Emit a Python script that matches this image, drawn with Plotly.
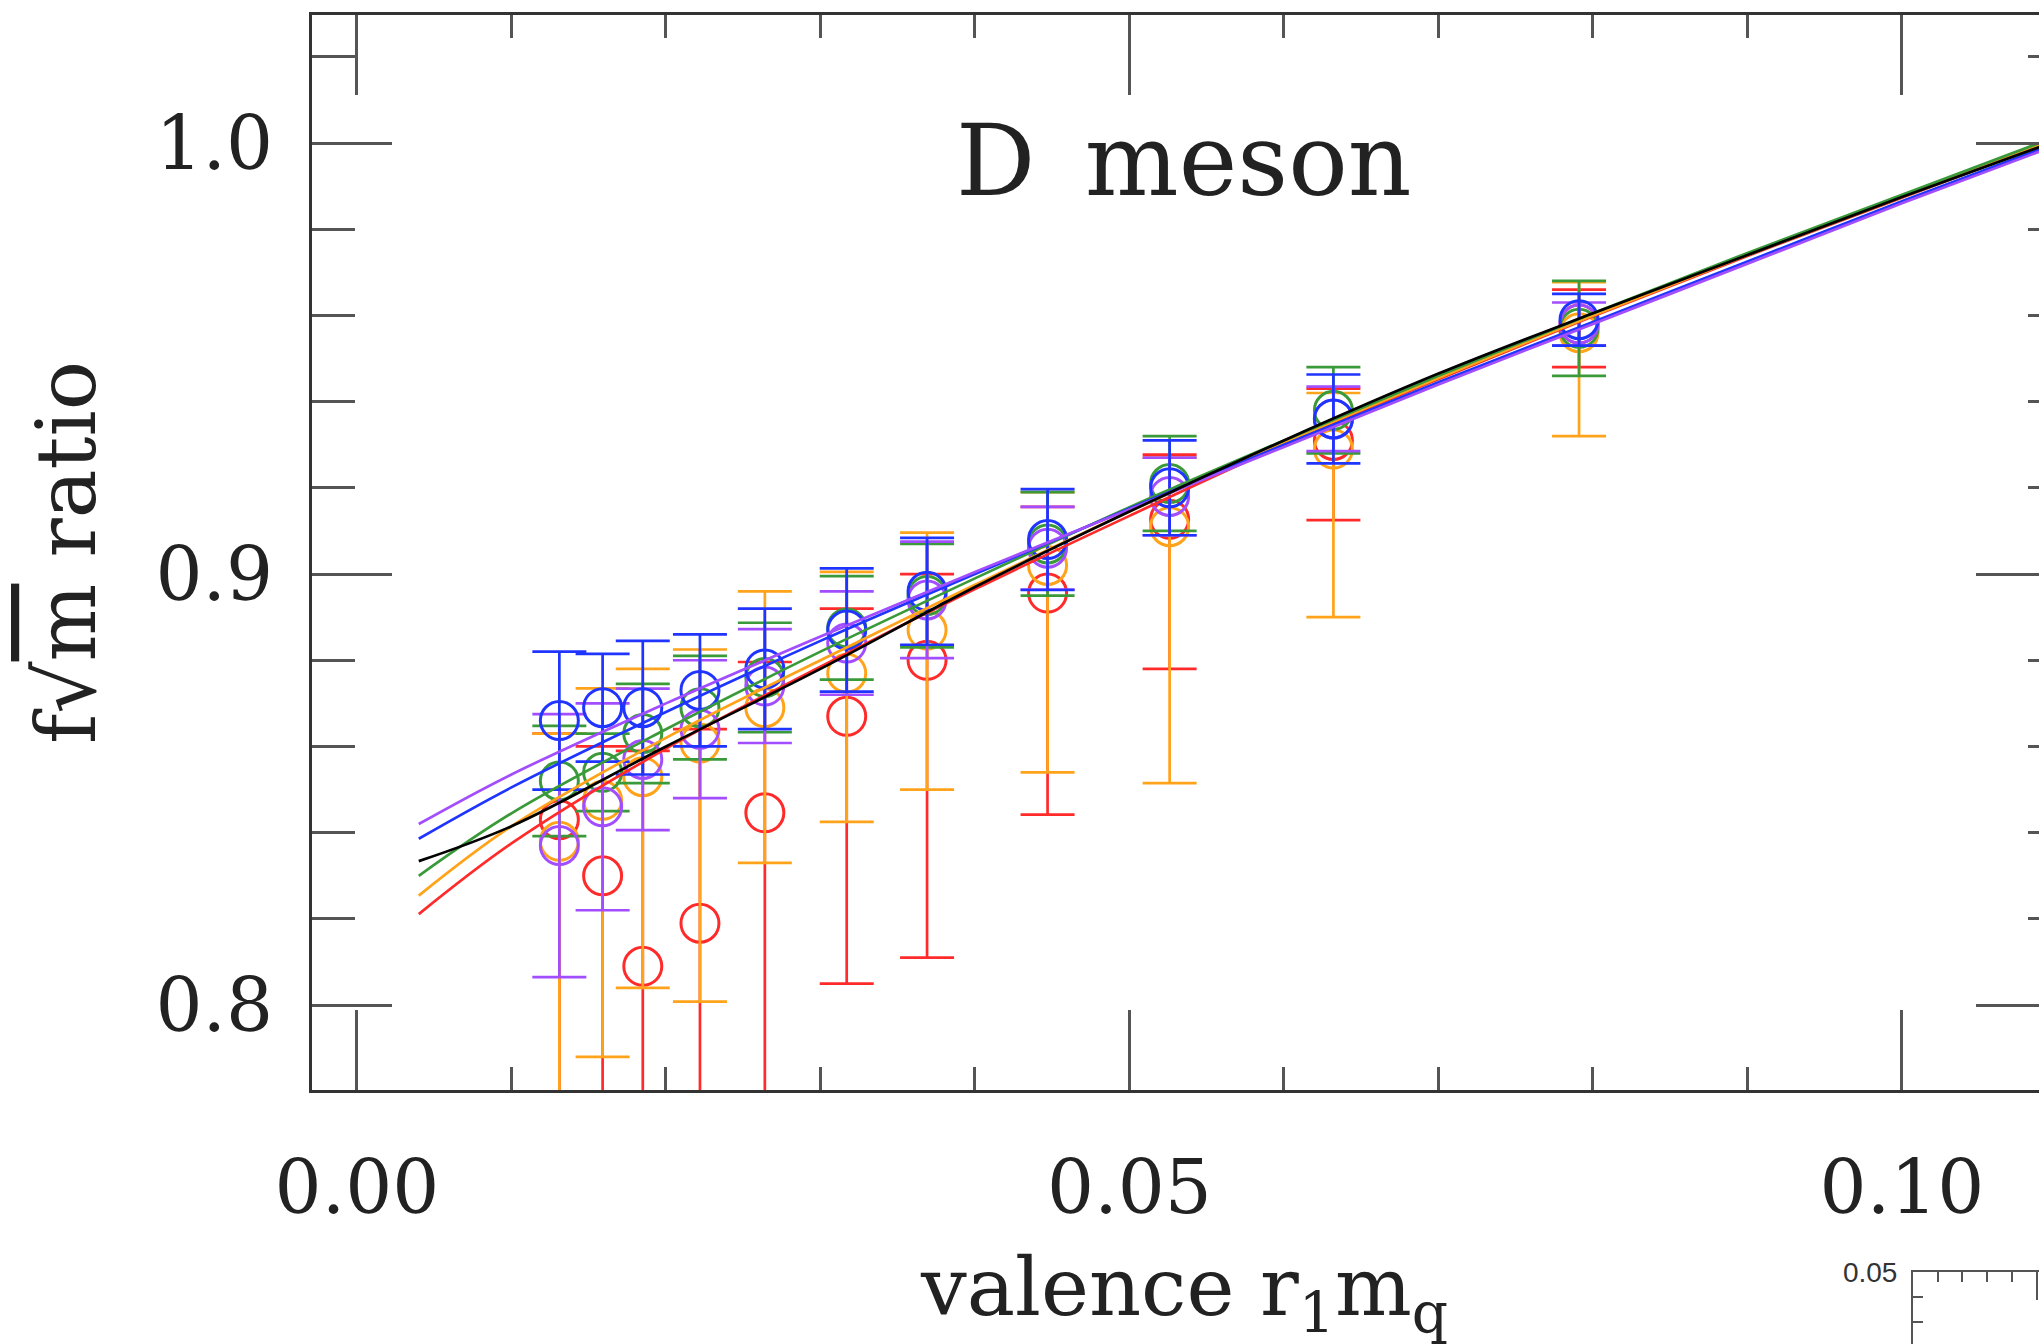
import plotly.graph_objects as go

W, H = 2039, 1344

# ---------------- data ----------------
x_val = [0.0131, 0.0159, 0.0185, 0.0222, 0.0264, 0.0317, 0.0369, 0.0447, 0.0526, 0.0632, 0.0791]

blue_y = [0.866, 0.869, 0.869, 0.873, 0.878, 0.887, 0.896, 0.908, 0.920, 0.936, 0.959]
blue_e = [0.016, 0.0125, 0.0155, 0.013, 0.014, 0.0143, 0.0124, 0.0117, 0.011, 0.0103, 0.006]

green_y = [0.852, 0.854, 0.863, 0.869, 0.876, 0.8875, 0.895, 0.907, 0.921, 0.938, 0.957]
green_e = [0.0128, 0.009, 0.0115, 0.012, 0.0127, 0.012, 0.012, 0.012, 0.011, 0.010, 0.011]

purple_y = [0.837, 0.846, 0.857, 0.864, 0.874, 0.884, 0.894, 0.906, 0.918, 0.936, 0.958]
purple_e = [0.0305, 0.024, 0.0164, 0.016, 0.0132, 0.012, 0.0135, 0.0096, 0.009, 0.0075, 0.005]

orange_y = [0.838, 0.8475, 0.853, 0.8608, 0.869, 0.877, 0.887, 0.902, 0.911, 0.929, 0.956]
orange_ep = [0.025, 0.026, 0.025, 0.0217, 0.027, 0.0235, 0.0226, 0.017, 0.016, 0.013, 0.0117]
orange_em = [0.09, 0.0595, 0.049, 0.060, 0.036, 0.0345, 0.037, 0.048, 0.0595, 0.039, 0.024]

red_y = [0.843, 0.830, 0.809, 0.819, 0.8446, 0.867, 0.880, 0.8956, 0.9127, 0.931, 0.958]
red_ep = [0.02, 0.03, 0.05, 0.045, 0.035, 0.025, 0.02, 0.02, 0.015, 0.012, 0.008]
red_em = [0.10, 0.10, 0.10, 0.10, 0.10, 0.062, 0.069, 0.0514, 0.0347, 0.0185, 0.010]

fit_x = [0.004, 0.01, 0.02, 0.03, 0.04, 0.05, 0.06, 0.07, 0.08, 0.09, 0.10, 0.11]
fit_purple = [0.8420, 0.8535, 0.8700, 0.8855, 0.9005, 0.9150, 0.9295, 0.9440, 0.9580, 0.9720, 0.9860, 0.9995]
fit_blue   = [0.8386, 0.8505, 0.8680, 0.8845, 0.9000, 0.9152, 0.9300, 0.9445, 0.9585, 0.9725, 0.9865, 1.0000]
fit_black  = [0.8334, 0.8415, 0.8600, 0.8780, 0.8970, 0.9145, 0.9310, 0.9465, 0.9605, 0.9740, 0.9875, 1.0005]
fit_green  = [0.8300, 0.8445, 0.8640, 0.8820, 0.8990, 0.9155, 0.9310, 0.9460, 0.9605, 0.9745, 0.9880, 1.0015]
fit_orange = [0.8254, 0.8415, 0.8620, 0.8800, 0.8975, 0.9145, 0.9305, 0.9455, 0.9600, 0.9740, 0.9875, 1.0010]
fit_red    = [0.8211, 0.8375, 0.8595, 0.8785, 0.8965, 0.9135, 0.9300, 0.9452, 0.9598, 0.9738, 0.9873, 1.0008]

title_text = "D\u2002meson"
xlabel_text = "valence r<sub>1</sub>m<sub>q</sub>"
ylabel_text = "f\u221a<span style='text-decoration:overline'>m</span> ratio"

# ---------------- styling ----------------
COL = dict(red="#ff2b2b", orange="#ffa31a", green="#3a9a3a",
           blue="#1f35ff", purple="#a24dff", black="#000000")
SERIF = "DejaVu Serif"
TXT = "#222222"

fig = go.Figure()

series = [
    ("red", red_y, red_ep, red_em),
    ("orange", orange_y, orange_ep, orange_em),
    ("green", green_y, green_e, green_e),
    ("purple", purple_y, purple_e, purple_e),
    ("blue", blue_y, blue_e, blue_e),
]
for name, yv, ep, em in series:
    c = COL[name]
    fig.add_trace(go.Scatter(
        x=x_val, y=yv, mode="markers", showlegend=False, hoverinfo="skip",
        marker=dict(symbol="circle-open", size=38, color=c, line=dict(width=3, color=c)),
        error_y=dict(type="data", symmetric=False, array=ep, arrayminus=em,
                     color=c, thickness=2.7, width=27),
    ))

fits = [("red", fit_red), ("orange", fit_orange), ("green", fit_green),
        ("blue", fit_blue), ("purple", fit_purple)]
for name, fy in fits:
    fig.add_trace(go.Scatter(x=fit_x, y=fy, mode="lines", showlegend=False,
                             hoverinfo="skip",
                             line=dict(color=COL[name], width=2.7, shape="spline")))
# black fit on the overlay axis (carries the right-hand ticks)
fig.add_trace(go.Scatter(x=fit_x, y=fit_black, mode="lines", showlegend=False,
                         hoverinfo="skip", yaxis="y2",
                         line=dict(color=COL["black"], width=2.7, shape="spline")))
# empty trace for the partial inset panel at the bottom right
fig.add_trace(go.Scatter(x=[], y=[], xaxis="x3", yaxis="y3", showlegend=False))

x0, x1 = -0.00291, 0.10887
y0, y1 = 0.7803, 1.0297
TICKC = "#555555"

fig.update_layout(
    width=W, height=H, autosize=False,
    margin=dict(l=0, r=0, t=0, b=0, pad=0, autoexpand=False),
    paper_bgcolor="white", plot_bgcolor="white",
    xaxis=dict(domain=[312 / W, 1.0], range=[x0, x1], anchor="y", automargin=False,
               showline=True, linecolor="#333333", linewidth=3, mirror="ticks",
               ticks="inside", ticklen=80, tickwidth=2.5, tickcolor=TICKC,
               tick0=0, dtick=0.05, tickformat=".2f",
               tickfont=dict(family=SERIF, size=74, color=TXT),
               ticklabelstandoff=31,
               minor=dict(ticks="inside", dtick=0.01, ticklen=23, tickwidth=2.5,
                          tickcolor=TICKC, showgrid=False),
               showgrid=False, zeroline=False),
    yaxis=dict(domain=[254 / H, 1329 / H], range=[y0, y1], anchor="x", automargin=False,
               showline=True, linecolor="#333333", linewidth=3, mirror=False,
               ticks="inside", ticklen=80, tickwidth=2.5, tickcolor=TICKC,
               tick0=0, dtick=0.1, tickformat=".1f",
               tickfont=dict(family=SERIF, size=74, color=TXT),
               ticklabelstandoff=21,
               minor=dict(ticks="inside", dtick=0.02, ticklen=43, tickwidth=2.5,
                          tickcolor=TICKC, showgrid=False),
               showgrid=False, zeroline=False),
    yaxis2=dict(overlaying="y", side="right", anchor="x", range=[y0, y1], automargin=False,
                showline=False, showticklabels=False,
                ticks="inside", ticklen=63, tickwidth=2.5, tickcolor=TICKC,
                tick0=0, dtick=0.1,
                minor=dict(ticks="inside", dtick=0.02, ticklen=11, tickwidth=2.5,
                           tickcolor=TICKC, showgrid=False),
                showgrid=False, zeroline=False),
    xaxis3=dict(domain=[1913 / W, 1.0], anchor="y3", side="top", range=[0, 5.1],
                automargin=False,
                showline=True, linecolor="#555555", linewidth=2,
                ticks="inside", ticklen=28, tickwidth=2, tickcolor="#555555",
                tick0=0, dtick=5, showticklabels=False,
                minor=dict(ticks="inside", dtick=1, ticklen=10, tickwidth=2,
                           tickcolor="#555555", showgrid=False),
                showgrid=False, zeroline=False),
    yaxis3=dict(domain=[0, 72 / H], anchor="x3", range=[0.0212, 0.05002],
                automargin=False,
                showline=True, linecolor="#555555", linewidth=2,
                ticks="inside", ticklen=28, tickwidth=2, tickcolor="#555555",
                tick0=0, dtick=0.05, tickformat=".2f",
                tickfont=dict(family="Liberation Sans", size=28, color="#333333"),
                ticklabelstandoff=8,
                minor=dict(ticks="inside", dtick=0.01, ticklen=10, tickwidth=2,
                           tickcolor="#555555", showgrid=False),
                showgrid=False, zeroline=False),
    annotations=[
        dict(text=title_text, x=1184 / W, y=(H - 161) / H, xref="paper", yref="paper",
             xanchor="center", yanchor="middle", showarrow=False,
             font=dict(family=SERIF, size=99, color=TXT)),
        dict(text=xlabel_text, x=1184 / W, y=(H - 1292) / H, xref="paper", yref="paper",
             xanchor="center", yanchor="middle", showarrow=False,
             font=dict(family=SERIF, size=81, color=TXT)),
        dict(text=ylabel_text, x=66 / W, y=(H - 553) / H, xref="paper", yref="paper",
             xanchor="center", yanchor="middle", showarrow=False, textangle=-90,
             font=dict(family=SERIF, size=82, color=TXT)),
    ],
)

fig.write_html("out.html", config={"displayModeBar": False},
               post_script="document.body.style.margin='0px';document.body.style.overflow='hidden';")
